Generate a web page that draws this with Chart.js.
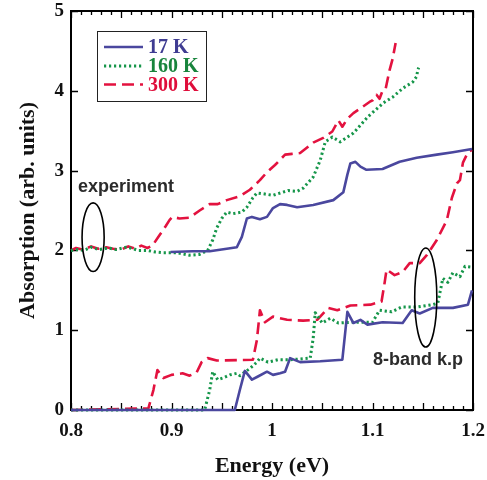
<!DOCTYPE html>
<html><head><meta charset="utf-8">
<script src="https://cdn.jsdelivr.net/npm/chart.js@4.4.1/dist/chart.umd.min.js"></script>
<style>html,body{margin:0;padding:0;background:#fff}</style>
</head><body>
<canvas id="c" width="487" height="480"></canvas>
<script>
// ---------- DATA ----------
const seriesNames = ['17 K', '160 K', '300 K'];
const xTickLabels = ['0.8', '0.9', '1', '1.1', '1.2'];
const yTickLabels = ['0', '1', '2', '3', '4', '5'];
const xTitle = 'Energy (eV)';
const yTitle = 'Absorption (arb. units)';
const noteExperiment = 'experiment';
const noteTheory = '8-band k.p';

// experiment (upper curves)
const exp17E = [0.899,0.921,0.938,0.955,0.965,0.970,0.975,0.980,0.988,0.995,1.001,1.008,1.015,1.025,1.041,1.061,1.071,1.075,1.078,1.083,1.088,1.094,1.110,1.127,1.144,1.164,1.180,1.199];
const exp17A = [1.98,1.99,1.99,2.02,2.04,2.17,2.40,2.42,2.39,2.42,2.53,2.58,2.57,2.54,2.57,2.63,2.73,2.95,3.09,3.11,3.05,3.01,3.02,3.11,3.16,3.20,3.23,3.27];

const exp160E = [0.800,0.807,0.813,0.820,0.828,0.837,0.845,0.855,0.862,0.867,0.876,0.884,0.892,0.906,0.918,0.928,0.936,0.941,0.945,0.950,0.955,0.961,0.970,0.975,0.981,0.985,0.991,1.001,1.011,1.016,1.025,1.031,1.041,1.048,1.053,1.060,1.068,1.081,1.095,1.111,1.120,1.130,1.140,1.144,1.145,1.146];
const exp160A = [2.00,2.01,2.00,2.04,2.01,2.03,2.01,2.04,2.02,2.00,2.00,1.98,1.97,1.97,1.94,1.95,2.00,2.13,2.28,2.40,2.48,2.46,2.48,2.54,2.66,2.72,2.71,2.69,2.73,2.75,2.74,2.78,2.92,3.13,3.36,3.42,3.36,3.47,3.67,3.85,3.92,4.03,4.11,4.18,4.26,4.29];

const exp300E = [0.800,0.805,0.812,0.820,0.827,0.835,0.842,0.850,0.857,0.864,0.870,0.876,0.881,0.887,0.894,0.898,0.901,0.908,0.918,0.928,0.938,0.946,0.955,0.968,0.978,0.988,0.995,1.003,1.013,1.020,1.028,1.041,1.051,1.060,1.066,1.070,1.075,1.081,1.088,1.097,1.100,1.104,1.107,1.110,1.113,1.117,1.120,1.123];
const exp300A = [2.00,2.03,2.01,2.05,2.02,2.04,2.02,2.01,2.05,2.02,2.06,2.03,2.06,2.17,2.30,2.38,2.42,2.40,2.41,2.50,2.58,2.58,2.63,2.68,2.76,2.88,2.98,3.07,3.20,3.21,3.22,3.35,3.41,3.49,3.63,3.55,3.65,3.72,3.78,3.86,3.88,3.95,3.90,4.00,4.02,4.26,4.40,4.60];

// 8-band k.p calculation (lower curves)
const calc17E = [0.800,0.963,0.968,0.973,0.980,0.986,0.995,1.001,1.008,1.013,1.018,1.028,1.048,1.070,1.075,1.081,1.088,1.095,1.110,1.130,1.139,1.147,1.160,1.180,1.195,1.199];
const calc17A = [0.00,0.00,0.25,0.49,0.38,0.42,0.48,0.44,0.46,0.48,0.65,0.60,0.61,0.63,1.23,1.09,1.13,1.07,1.10,1.09,1.25,1.21,1.28,1.28,1.32,1.50];

const calc160E = [0.800,0.933,0.938,0.941,0.946,0.951,0.958,0.965,0.968,0.978,0.985,0.988,0.996,1.006,1.018,1.038,1.041,1.043,1.050,1.058,1.066,1.081,1.100,1.107,1.119,1.129,1.144,1.160,1.165,1.170,1.175,1.180,1.187,1.192,1.199];
const calc160A = [0.00,0.00,0.25,0.48,0.38,0.40,0.44,0.46,0.43,0.52,0.60,0.65,0.60,0.63,0.63,0.65,0.90,1.22,1.09,1.15,1.09,1.10,1.10,1.25,1.23,1.29,1.29,1.32,1.34,1.65,1.60,1.72,1.67,1.80,1.79];

const calc300E = [0.800,0.877,0.882,0.886,0.892,0.900,0.911,0.918,0.925,0.930,0.936,0.945,0.981,0.985,0.988,0.993,1.001,1.008,1.015,1.031,1.045,1.056,1.065,1.078,1.098,1.109,1.112,1.114,1.122,1.130,1.137,1.147,1.154,1.164,1.174,1.179,1.184,1.187,1.190,1.195,1.199];
const calc300A = [0.00,0.02,0.25,0.50,0.40,0.44,0.46,0.43,0.47,0.60,0.65,0.62,0.63,0.88,1.25,1.10,1.17,1.15,1.13,1.12,1.13,1.28,1.25,1.31,1.32,1.36,1.59,1.76,1.69,1.73,1.84,1.84,1.94,2.13,2.38,2.66,2.84,2.88,3.10,3.23,3.26];

// ---------- STYLE ----------
const COL17 = '#4a479e', COL160 = '#16964a', COL300 = '#e3123f';
const TXT17 = '#3f3c92', TXT160 = '#18843c', TXT300 = '#df0d3a';
const SERIF = '"Liberation Serif", "Times New Roman", serif';
const SANS = '"Liberation Sans", Arial, sans-serif';
const styles = [
  {c: COL17, dash: [], w: 2.6},
  {c: COL160, dash: [2.2, 2.8], w: 3},
  {c: COL300, dash: [12, 6], w: 2.6}
];

function pts(E, A) { return E.map((e, i) => ({x: e, y: A[i]})); }
function ds(label, E, A, s) {
  return {label, data: pts(E, A), showLine: true, borderColor: s.c, borderWidth: s.w,
    borderDash: s.dash, pointRadius: 0, tension: 0, fill: false, clip: false,
    borderCapStyle: 'butt', borderJoinStyle: 'round'};
}

const frameTicks = {
  id: 'frameTicks',
  beforeDatasetsDraw(chart) {
    const {ctx, chartArea: a, scales: {x, y}} = chart;
    ctx.save();
    ctx.strokeStyle = '#000';
    ctx.lineWidth = 1.3;
    for (let i = 0; i <= 40; i++) {
      const v = 0.8 + i * 0.01;
      const px = Math.round(x.getPixelForValue(v)) + 0.5;
      const len = (i % 5 === 0) ? 7 : 4;
      ctx.beginPath();
      ctx.moveTo(px, a.bottom); ctx.lineTo(px, a.bottom - len);
      ctx.moveTo(px, a.top); ctx.lineTo(px, a.top + len);
      ctx.stroke();
    }
    for (let v = 0; v <= 5; v++) {
      const py = Math.round(y.getPixelForValue(v)) + 0.5;
      ctx.beginPath();
      ctx.moveTo(a.left, py); ctx.lineTo(a.left + 7, py);
      ctx.moveTo(a.right, py); ctx.lineTo(a.right - 7, py);
      ctx.stroke();
    }
    ctx.lineWidth = 2;
    ctx.strokeRect(a.left, a.top, a.right - a.left, a.bottom - a.top);
    ctx.restore();
  },
  afterDatasetsDraw(chart) {
    const {ctx, scales: {x, y}} = chart;
    ctx.save();
    // ellipses
    ctx.strokeStyle = '#000'; ctx.lineWidth = 1.6;
    const ell = (cx, cy, rx, ry) => {
      const px = x.getPixelForValue(cx), py = y.getPixelForValue(cy);
      const rpx = Math.abs(x.getPixelForValue(cx + rx) - px);
      const rpy = Math.abs(y.getPixelForValue(cy + ry) - py);
      ctx.beginPath(); ctx.ellipse(px, py, rpx, rpy, 0, 0, Math.PI * 2); ctx.stroke();
    };
    ell(0.822, 2.165, 0.011, 0.43);
    ell(1.153, 1.41, 0.011, 0.62);
    // notes
    ctx.fillStyle = '#2b2b2b';
    ctx.font = 'bold 18px ' + SANS;
    ctx.textBaseline = 'middle'; ctx.textAlign = 'left';
    ctx.fillText(noteExperiment, x.getPixelForValue(0.807), y.getPixelForValue(2.79));
    ctx.fillText(noteTheory, x.getPixelForValue(1.1005), y.getPixelForValue(0.63));
    // legend
    const L = 97, T = 31, W = 109, H = 70;
    ctx.strokeStyle = '#222'; ctx.lineWidth = 1;
    ctx.strokeRect(L + 0.5, T + 0.5, W, H);
    const rows = [47, 66, 84.5];
    const tcols = [TXT17, TXT160, TXT300];
    ctx.font = 'bold 20px ' + SERIF;
    rows.forEach((ry, i) => {
      const s = styles[i];
      ctx.strokeStyle = s.c; ctx.lineWidth = s.w; ctx.setLineDash(s.dash);
      ctx.beginPath(); ctx.moveTo(104, ry); ctx.lineTo(143, ry); ctx.stroke();
      ctx.setLineDash([]);
      ctx.fillStyle = tcols[i];
      ctx.fillText(seriesNames[i], 148, ry + 1);
    });
    ctx.restore();
  }
};

new Chart(document.getElementById('c'), {
  type: 'scatter',
  data: {
    datasets: [
      ds(seriesNames[0], exp17E, exp17A, styles[0]),
      ds(seriesNames[0], calc17E, calc17A, styles[0]),
      ds(seriesNames[1], exp160E, exp160A, styles[1]),
      ds(seriesNames[1], calc160E, calc160A, styles[1]),
      ds(seriesNames[2], exp300E, exp300A, styles[2]),
      ds(seriesNames[2], calc300E, calc300A, styles[2])
    ]
  },
  options: {
    responsive: false,
    animation: false,
    devicePixelRatio: 1,
    layout: {padding: {top: 11, right: 14, left: 0, bottom: 0}},
    plugins: {legend: {display: false}, tooltip: {enabled: false}},
    scales: {
      x: {
        type: 'linear', min: 0.8, max: 1.2,
        grid: {display: false, drawTicks: false}, border: {display: false},
        ticks: {stepSize: 0.1, padding: 10, color: '#111', font: {family: SERIF, size: 19, weight: 'bold'},
          callback: (v, i) => xTickLabels[i]},
        title: {display: true, text: xTitle, color: '#111', font: {family: SERIF, size: 22, weight: 'bold'}, padding: {top: 0, bottom: 0}},
        afterFit(s) { s.height = 70; s.paddingLeft = 0; s.paddingRight = 0; }
      },
      y: {
        type: 'linear', min: 0, max: 5,
        grid: {display: false, drawTicks: false}, border: {display: false},
        ticks: {stepSize: 1, padding: 7, color: '#111', font: {family: SERIF, size: 19, weight: 'bold'},
          callback: (v, i) => yTickLabels[i]},
        title: {display: true, text: yTitle, color: '#111', font: {family: SERIF, size: 22, weight: 'bold'}, padding: {top: 15, bottom: 0}},
        afterFit(s) { s.width = 71; s.paddingTop = 0; s.paddingBottom = 0; }
      }
    }
  },
  plugins: [frameTicks]
});
</script>
</body></html>
